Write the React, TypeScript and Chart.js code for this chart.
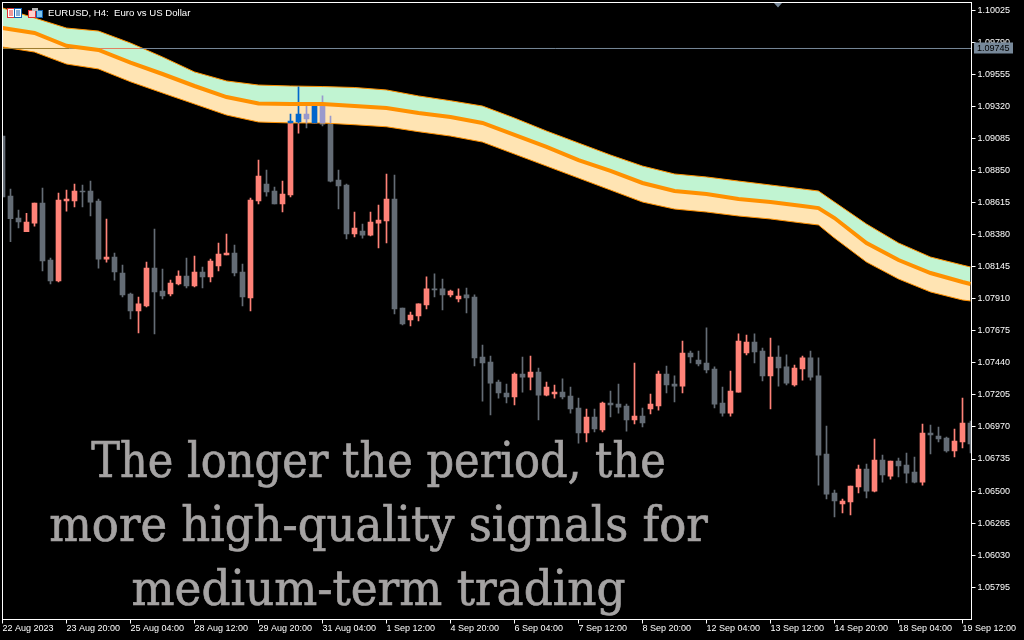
import React, { useEffect, useRef } from "react";
import { Chart, registerables } from "chart.js";

Chart.register(...registerables);

const opens = [
  1.09103, 1.08663, 1.08502, 1.08402, 1.08465, 1.08612, 1.08194, 1.0804, 1.08627, 1.08627,
  1.087, 1.087, 1.08627, 1.08201, 1.08216, 1.08099, 1.07945, 1.0782, 1.07857, 1.08135,
  1.07967, 1.07945, 1.08018, 1.08077, 1.08004, 1.08106, 1.0807, 1.0815, 1.08231, 1.08245,
  1.08106, 1.07916, 1.08627, 1.08751, 1.087, 1.08605, 1.08671, 1.09206, 1.09265, 1.09199,
  1.09323, 1.09191, 1.08781, 1.08744, 1.08385, 1.08407, 1.08377, 1.08465, 1.0848, 1.08641,
  1.07842, 1.07754, 1.07784, 1.07864, 1.07982, 1.07982, 1.07938, 1.07908, 1.07938, 1.07923,
  1.07483, 1.07446, 1.073, 1.07219, 1.0719, 1.07358, 1.07336, 1.07373, 1.07204, 1.07212,
  1.07226, 1.07197, 1.07109, 1.06926, 1.07043, 1.06948, 1.07146, 1.07138, 1.07124, 1.07021,
  1.0705, 1.07102, 1.07124, 1.07358, 1.07285, 1.0727, 1.07512, 1.07461, 1.07439, 1.07395,
  1.07146, 1.07072, 1.07226, 1.07512, 1.07593, 1.07527, 1.07344, 1.07483, 1.0741, 1.07278,
  1.07395, 1.07476, 1.07344, 1.06772, 1.06486, 1.06405, 1.0642, 1.0653, 1.06662, 1.065,
  1.06728, 1.0661, 1.0672, 1.06691, 1.0664, 1.06566, 1.06926, 1.06904, 1.06889, 1.06794,
  1.0686, 1.06999,
];
const closes = [
  1.08656, 1.08497, 1.08473, 1.08473, 1.08612, 1.08187, 1.0804, 1.08634, 1.08641, 1.087,
  1.08693, 1.08619, 1.08201, 1.08216, 1.08106, 1.07938, 1.0782, 1.07872, 1.08135, 1.0796,
  1.0793, 1.08025, 1.08077, 1.08004, 1.08106, 1.0807, 1.08187, 1.08238, 1.08245, 1.08099,
  1.07923, 1.08634, 1.0881, 1.08693, 1.08605, 1.08678, 1.09213, 1.09265, 1.09228, 1.09323,
  1.09191, 1.08773, 1.08737, 1.08385, 1.08429, 1.08377, 1.08473, 1.08487, 1.08641, 1.07835,
  1.07725, 1.07791, 1.07872, 1.07982, 1.07974, 1.07938, 1.07967, 1.0793, 1.07916, 1.07476,
  1.07439, 1.07292, 1.07219, 1.0719, 1.07358, 1.07336, 1.07373, 1.07204, 1.07263, 1.07226,
  1.0719, 1.07102, 1.06926, 1.07043, 1.06955, 1.07146, 1.07131, 1.07116, 1.07021, 1.0705,
  1.06999, 1.07138, 1.07358, 1.07278, 1.0727, 1.07512, 1.07483, 1.07432, 1.07388, 1.07138,
  1.07072, 1.07234, 1.076, 1.07593, 1.0752, 1.07344, 1.07483, 1.07402, 1.07292, 1.07402,
  1.07476, 1.07336, 1.06764, 1.06478, 1.06427, 1.06427, 1.06537, 1.06662, 1.065, 1.06728,
  1.06618, 1.0672, 1.06684, 1.06632, 1.06566, 1.06926, 1.06911, 1.06882, 1.06794, 1.06867,
  1.06999, 1.06845,
];
const highs = [
  1.09103, 1.08715, 1.08561, 1.08537, 1.08612, 1.08722, 1.08209, 1.08685, 1.08707, 1.08751,
  1.08744, 1.08773, 1.08641, 1.08495, 1.08245, 1.08157, 1.07952, 1.07923, 1.08179, 1.08421,
  1.08128, 1.08047, 1.08114, 1.08209, 1.08223, 1.08143, 1.08201, 1.08319, 1.08385, 1.08304,
  1.08165, 1.08649, 1.08927, 1.08854, 1.08729, 1.08773, 1.09265, 1.09463, 1.09323, 1.09323,
  1.09397, 1.0925, 1.08854, 1.08751, 1.08546, 1.08458, 1.08546, 1.08597, 1.08825, 1.08817,
  1.07842, 1.07813, 1.07872, 1.0807, 1.08092, 1.08055, 1.07974, 1.07982, 1.07989, 1.07938,
  1.07571, 1.0749, 1.07314, 1.07285, 1.07366, 1.07483, 1.0749, 1.07402, 1.073, 1.07278,
  1.07322, 1.07263, 1.07182, 1.07102, 1.07102, 1.07153, 1.07234, 1.07285, 1.07138, 1.07439,
  1.07109, 1.07212, 1.0738, 1.07417, 1.07344, 1.076, 1.07527, 1.07527, 1.07696, 1.0741,
  1.07263, 1.0738, 1.07652, 1.07644, 1.07652, 1.07549, 1.07622, 1.07564, 1.07498, 1.07424,
  1.0749, 1.07527, 1.07476, 1.06977, 1.06508, 1.06442, 1.06537, 1.06691, 1.06698, 1.06882,
  1.06764, 1.0672, 1.06742, 1.06779, 1.0675, 1.06992, 1.06984, 1.0697, 1.06896, 1.06955,
  1.07182, 1.07014,
];
const lows = [
  1.08656, 1.08328, 1.08429, 1.08402, 1.08443, 1.08114, 1.08018, 1.08033, 1.08553, 1.08583,
  1.08583, 1.08517, 1.08135, 1.08179, 1.08047, 1.07923, 1.07762, 1.07659, 1.0785, 1.07652,
  1.07908, 1.0793, 1.08011, 1.07989, 1.07996, 1.07989, 1.08033, 1.08114, 1.08231, 1.08077,
  1.07857, 1.0782, 1.08605, 1.08663, 1.08605, 1.08546, 1.08656, 1.09125, 1.09162, 1.09199,
  1.09177, 1.08766, 1.08568, 1.08348, 1.08363, 1.08355, 1.0837, 1.08282, 1.08319, 1.07798,
  1.07718, 1.0771, 1.07747, 1.07835, 1.07923, 1.07828, 1.07923, 1.07886, 1.07806, 1.07417,
  1.0716, 1.07058, 1.07182, 1.07146, 1.07131, 1.07226, 1.07241, 1.07021, 1.07197, 1.07182,
  1.07175, 1.07072, 1.06852, 1.0686, 1.06933, 1.06933, 1.07043, 1.07072, 1.0694, 1.06992,
  1.0697, 1.07065, 1.07094, 1.07219, 1.07153, 1.07219, 1.07439, 1.07417, 1.07366, 1.07109,
  1.0705, 1.0705, 1.07226, 1.07498, 1.07439, 1.07307, 1.07102, 1.0727, 1.07278, 1.0727,
  1.07314, 1.07314, 1.06544, 1.06442, 1.0631, 1.06339, 1.06325, 1.06486, 1.06449, 1.06493,
  1.06566, 1.06588, 1.06603, 1.06559, 1.06559, 1.06544, 1.06772, 1.0686, 1.06786, 1.0675,
  1.06816, 1.06779,
];

// Band samples, read every fourth bar plus the bend near 13 Sep
const bandBars = [0, 4, 8, 12, 16, 20, 24, 28, 32, 36, 40, 44, 48, 52, 56, 60, 64, 68, 72, 76, 80, 84, 88, 92, 96, 100, 102, 104, 108, 112, 116, 120, 121];
const bandUpper = [
  1.10042, 1.09969, 1.09895, 1.09873, 1.09785, 1.09683, 1.09573, 1.09507, 1.09477, 1.0947, 1.09466,
  1.09459, 1.09441, 1.09397, 1.09362, 1.09323, 1.09235, 1.0914, 1.09052, 1.08964, 1.08883, 1.08825,
  1.08803, 1.08773, 1.08744, 1.08715, 1.087, 1.08619, 1.08458, 1.08319, 1.08216, 1.08157, 1.08143,
];
const bandMiddle = [
  1.09895, 1.09859, 1.09765, 1.09734, 1.09642, 1.09558, 1.0947, 1.09389, 1.09342, 1.09338, 1.09338,
  1.09323, 1.09309, 1.09272, 1.09243, 1.09199, 1.09111, 1.09023, 1.08927, 1.08847, 1.08759, 1.087,
  1.08678, 1.08641, 1.08619, 1.0859, 1.08575, 1.08502, 1.08319, 1.08194, 1.08099, 1.08033, 1.08018,
];
const bandLower = [
  1.09756, 1.09719, 1.09631, 1.09595, 1.09501, 1.09419, 1.09338, 1.09257, 1.09206, 1.09199, 1.09199,
  1.09186, 1.09171, 1.09135, 1.09103, 1.09059, 1.08971, 1.08883, 1.08795, 1.08707, 1.08619, 1.08568,
  1.08546, 1.08517, 1.08495, 1.08465, 1.08451, 1.08355, 1.08179, 1.08055, 1.0796, 1.07901, 1.07894,
];

// Parts of candles that show through the band in inverted colours
const blueBodyBars = [36, 37, 39];
const blueBodyTop = [1.09213, 1.09265, 1.09323];
const blueBodyBottom = [1.09199, 1.09206, 1.09199];
const blueWickBars = [36, 37];
const blueWickTop = [1.09265, 1.09463];
const blueWickBottom = [1.09199, 1.09199];
const lavenderBodyBars = [38, 40];
const lavenderBodyTop = [1.09265, 1.09323];
const lavenderBodyBottom = [1.09228, 1.09199];
const lavenderWickBars = [38, 40, 41];
const lavenderWickTop = [1.09323, 1.09397, 1.0925];
const lavenderWickBottom = [1.09199, 1.09199, 1.09199];

const bidPrice = 1.09745;
const bidBars = [0, 8.4, 12.2, 17.2, 121.125];

const priceTicks = [
  1.10025, 1.0979, 1.09555, 1.0932, 1.09085, 1.0885, 1.08615, 1.0838, 1.08145, 1.0791, 1.07675,
  1.0744, 1.07205, 1.0697, 1.06735, 1.065, 1.06265, 1.0603, 1.05795,
];
const timeBars = [0, 8, 16, 24, 32, 40, 48, 56, 64, 72, 80, 88, 96, 104, 112, 120];
const timeLabels = [
  "22 Aug 2023", "23 Aug 20:00", "25 Aug 04:00", "28 Aug 12:00", "29 Aug 20:00", "31 Aug 04:00",
  "1 Sep 12:00", "4 Sep 20:00", "6 Sep 04:00", "7 Sep 12:00", "8 Sep 20:00", "12 Sep 04:00",
  "13 Sep 12:00", "14 Sep 20:00", "18 Sep 04:00", "19 Sep 12:00",
];
const captionLines = ["The longer the period, the", "more high-quality signals for", "medium-term trading"];
const titleText = "EURUSD, H4:  Euro vs US Dollar";

const UP = "#ff8278";
const DOWN = "#646c75";
const BLUE = "#0066cc";
const LAVENDER = "#9999cc";
const ORANGE = "#ff9000";
const MINT = "#c1f4d2";
const PEACH = "#ffe4b3";
const SLATE = "#778899";
const AXIS_FONT = { family: "'Liberation Sans', sans-serif", size: 9 };

const pairs = (xs: number[], a: number[], b: number[]) => xs.map((x, k) => ({ x, y: [a[k], b[k]] }));
const linePts = (xs: number[], ys: number[]) => xs.map((x, k) => ({ x, y: ys[k] }));
const bars = opens.map((_, i) => i);

const bidPlugin = {
  id: "bidAndFrame",
  afterDraw(chart: any) {
    const { ctx, chartArea: a, scales } = chart;
    ctx.save();
    ctx.strokeStyle = "#ffffff";
    ctx.lineWidth = 1;
    ctx.strokeRect(a.left, a.top, a.right - a.left, a.bottom - a.top);
    const y = scales.y.getPixelForValue(bidPrice);
    ctx.fillStyle = SLATE;
    ctx.fillRect(a.right + 2.5, Math.round(y) - 5.5, 39, 11);
    ctx.fillStyle = "#000000";
    ctx.font = "9px 'Liberation Sans', sans-serif";
    ctx.textBaseline = "middle";
    ctx.fillText(bidPrice.toFixed(5), a.right + 5.5, y + 0.5);
    ctx.restore();
  },
};

export default function App() {
  const ref = useRef<HTMLCanvasElement>(null);
  useEffect(() => {
    document.body.style.margin = "0";
    document.body.style.background = "#000";
    const chart = new Chart(ref.current as any, {
      type: "bar",
      plugins: [bidPlugin],
      data: {
        datasets: [
          { type: "line", data: linePts(bandBars, bandMiddle), borderColor: ORANGE, borderWidth: 4, pointRadius: 0, tension: 0, fill: false },
          {
            type: "line",
            data: bidBars.map((x) => ({ x, y: bidPrice })),
            borderColor: SLATE,
            borderWidth: 1,
            pointRadius: 0,
            tension: 0,
            fill: false,
            segment: {
              borderColor: (c: any) => (c.p0.parsed.x < 8 ? "#9c7b2e" : c.p0.parsed.x > 12 && c.p0.parsed.x < 17 ? "#e08060" : SLATE),
            },
          },
          { data: pairs(lavenderBodyBars, lavenderBodyTop, lavenderBodyBottom), backgroundColor: LAVENDER, barThickness: 5, grouped: false },
          { data: pairs(blueBodyBars, blueBodyTop, blueBodyBottom), backgroundColor: BLUE, barThickness: 5, grouped: false },
          { data: pairs(lavenderWickBars, lavenderWickTop, lavenderWickBottom), backgroundColor: LAVENDER, barThickness: 1, grouped: false },
          { data: pairs(blueWickBars, blueWickTop, blueWickBottom), backgroundColor: BLUE, barThickness: 1, grouped: false },
          { type: "line", data: linePts(bandBars, bandUpper), borderColor: ORANGE, backgroundColor: MINT, borderWidth: 1, pointRadius: 0, tension: 0, fill: 0 },
          { type: "line", data: linePts(bandBars, bandLower), borderColor: ORANGE, backgroundColor: PEACH, borderWidth: 1, pointRadius: 0, tension: 0, fill: 0 },
          {
            data: pairs(bars, opens, closes),
            backgroundColor: bars.map((i) => (closes[i] >= opens[i] ? UP : DOWN)),
            barThickness: 5,
            grouped: false,
          },
          {
            data: pairs(bars, highs, lows),
            backgroundColor: bars.map((i) => (closes[i] >= opens[i] ? UP : DOWN)),
            barThickness: 1,
            grouped: false,
          },
        ] as any,
      },
      options: {
        responsive: false,
        animation: false,
        events: [],
        layout: { padding: { left: 2.5, top: 2.5, right: 0, bottom: 0 } },
        plugins: { legend: { display: false }, tooltip: { enabled: false }, title: { display: false } },
        scales: {
          x: {
            type: "linear",
            offset: false,
            min: 0,
            max: 121.125,
            grid: { display: true, offset: false, drawOnChartArea: false, drawTicks: true, tickLength: 4, tickColor: "#ffffff", lineWidth: 1 },
            border: { display: true, color: "#ffffff", width: 1 },
            ticks: {
              color: "#ffffff",
              font: AXIS_FONT,
              padding: 0,
              align: "start",
              autoSkip: false,
              maxRotation: 0,
              minRotation: 0,
              callback: (v: any) => timeLabels[timeBars.indexOf(Number(v))] ?? "",
            },
            afterBuildTicks: (s: any) => {
              s.ticks = timeBars.map((value) => ({ value }));
            },
            afterFit: (s: any) => {
              s.height = 20.5;
              s.paddingLeft = 0;
              s.paddingRight = 0;
            },
          },
          y: {
            type: "linear",
            position: "right",
            min: 1.055583,
            max: 1.100822,
            grid: { display: true, drawOnChartArea: false, drawTicks: true, tickLength: 4, tickColor: "#ffffff", lineWidth: 1 },
            border: { display: true, color: "#ffffff", width: 1 },
            ticks: {
              color: "#ffffff",
              font: AXIS_FONT,
              padding: 2,
              autoSkip: false,
              callback: (v: any) => Number(v).toFixed(5),
            },
            afterBuildTicks: (s: any) => {
              s.ticks = priceTicks.map((value) => ({ value }));
            },
            afterFit: (s: any) => {
              s.width = 52.5;
              s.paddingTop = 0;
              s.paddingBottom = 0;
            },
          },
        },
      } as any,
    });
    return () => chart.destroy();
  }, []);

  const captionTops = [430, 494, 558];
  const captionScale = [0.899, 0.937, 0.945];
  return (
    <div style={{ position: "relative", width: 1024, height: 640, background: "#000", overflow: "hidden" }}>
      <canvas ref={ref} width={1024} height={640} style={{ display: "block", width: 1024, height: 640 }} />
      <svg width={50} height={20} style={{ position: "absolute", left: 0, top: 0 }}>
        <rect x={7.5} y={8.5} width={7} height={9} fill="#fff" stroke="#e03030" />
        <rect x={14.5} y={8.5} width={7} height={9} fill="#fff" stroke="#1060b0" />
        <path d="M9 11h4M9 13h4M9 15h4" stroke="#e03030" />
        <path d="M16 11h4M16 13h4M16 15h4" stroke="#1060b0" />
        <rect x={28.5} y={10.5} width={7} height={7} fill="#ffd0cc" stroke="#e03030" />
        <rect x={36.5} y={10.5} width={6} height={7} fill="#7cc4f0" stroke="#1060b0" />
        <rect x={32} y={8} width={6} height={3} fill="#b8b8b8" />
      </svg>
      <div
        style={{
          position: "absolute",
          left: 48,
          top: 7,
          color: "#fff",
          font: "9.6px 'Liberation Sans', sans-serif",
          lineHeight: "12px",
          whiteSpace: "pre",
        }}
      >
        {titleText}
      </div>
      <svg width={10} height={6} style={{ position: "absolute", left: 773, top: 2 }}>
        <path d="M1 1h8l-4 4.5z" fill={SLATE} />
      </svg>
      {captionLines.map((line, k) => (
        <div
          key={line}
          style={{
            position: "absolute",
            left: 0,
            width: 757,
            top: captionTops[k],
            textAlign: "center",
            color: "#a5a3a3",
            font: "48px 'DejaVu Serif', serif",
            lineHeight: "60px",
            whiteSpace: "pre",
            WebkitTextStroke: "0.7px #a5a3a3",
            transform: `scaleX(${captionScale[k]})`,
          }}
        >
          {line}
        </div>
      ))}
    </div>
  );
}
